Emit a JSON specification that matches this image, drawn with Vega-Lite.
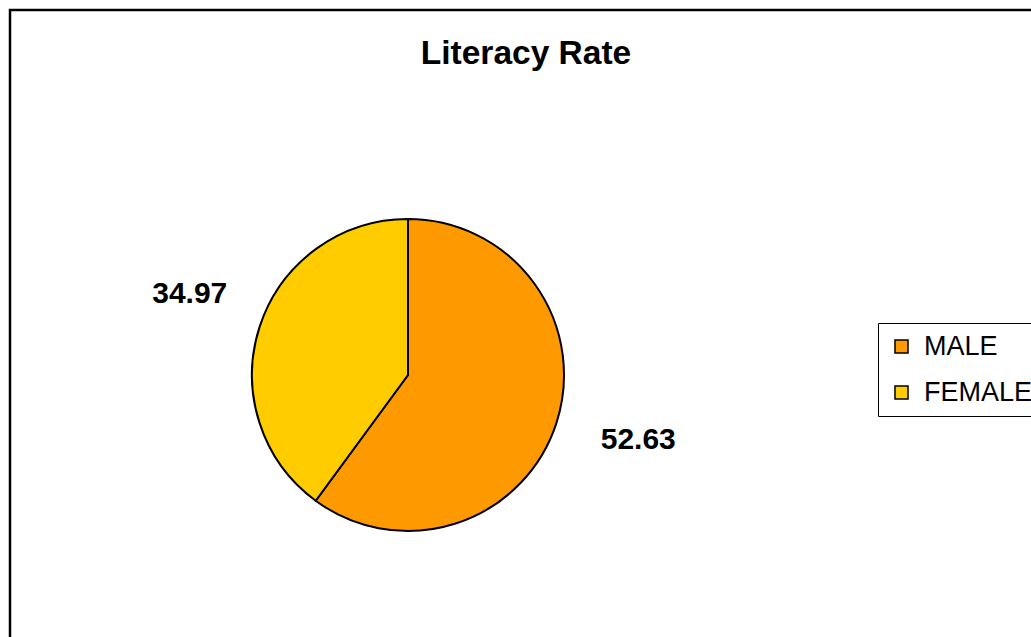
{
  "$schema": "https://vega.github.io/schema/vega-lite/v6.json",
  "autosize": "none",
  "width": 1040,
  "height": 640,
  "padding": {"left": 10, "top": 10, "right": -19, "bottom": -13},
  "background": "white",
  "view": {"stroke": "black", "strokeWidth": 2.5, "fill": "white"},
  "config": {
    "view": {"stroke": "black", "strokeWidth": 2.5},
    "font": "Liberation Sans"
  },
  "title": {
    "text": "Literacy Rate",
    "font": "Liberation Sans",
    "fontSize": 33.5,
    "fontWeight": "bold",
    "color": "black",
    "anchor": "middle",
    "baseline": "alphabetic",
    "offset": -87,
    "dx": -4
  },
  "data": {
    "values": [
      {"sex": "MALE", "rate": 52.63},
      {"sex": "FEMALE", "rate": 34.97}
    ]
  },
  "layer": [
    {
      "mark": {"type": "arc", "stroke": "black", "strokeWidth": 2, "radius": 156, "x": 398, "y": 365},
      "encoding": {
        "theta": {"field": "rate", "type": "quantitative"},
        "order": {"field": "sex", "type": "nominal", "sort": "descending"},
        "color": {
          "field": "sex",
          "type": "nominal",
          "sort": ["MALE", "FEMALE"],
          "scale": {"domain": ["MALE", "FEMALE"], "range": ["#FF9900", "#FFCC00"]},
          "legend": {
            "title": null,
            "orient": "none",
            "legendX": 868,
            "legendY": 313,
            "symbolType": "square",
            "symbolSize": 170,
            "symbolStrokeColor": "black",
            "symbolStrokeWidth": 1.5,
            "labelFontSize": 27,
            "labelFont": "Liberation Sans",
            "labelColor": "black",
            "labelOffset": 9,
            "rowPadding": 18,
            "padding": 10,
            "strokeColor": "black",
            "fillColor": "white"
          }
        }
      }
    },
    {
      "mark": {"type": "text", "radius": 236, "x": 398, "y": 365, "dx": 6, "dy": -8, "font": "Liberation Sans", "fontSize": 30, "fontWeight": "bold", "fill": "black"},
      "encoding": {
        "theta": {"field": "rate", "type": "quantitative", "stack": true},
        "order": {"field": "sex", "type": "nominal", "sort": "descending"},
        "detail": {"field": "sex", "type": "nominal"},
        "text": {"field": "rate", "type": "quantitative", "format": ".2f"}
      }
    }
  ]
}
